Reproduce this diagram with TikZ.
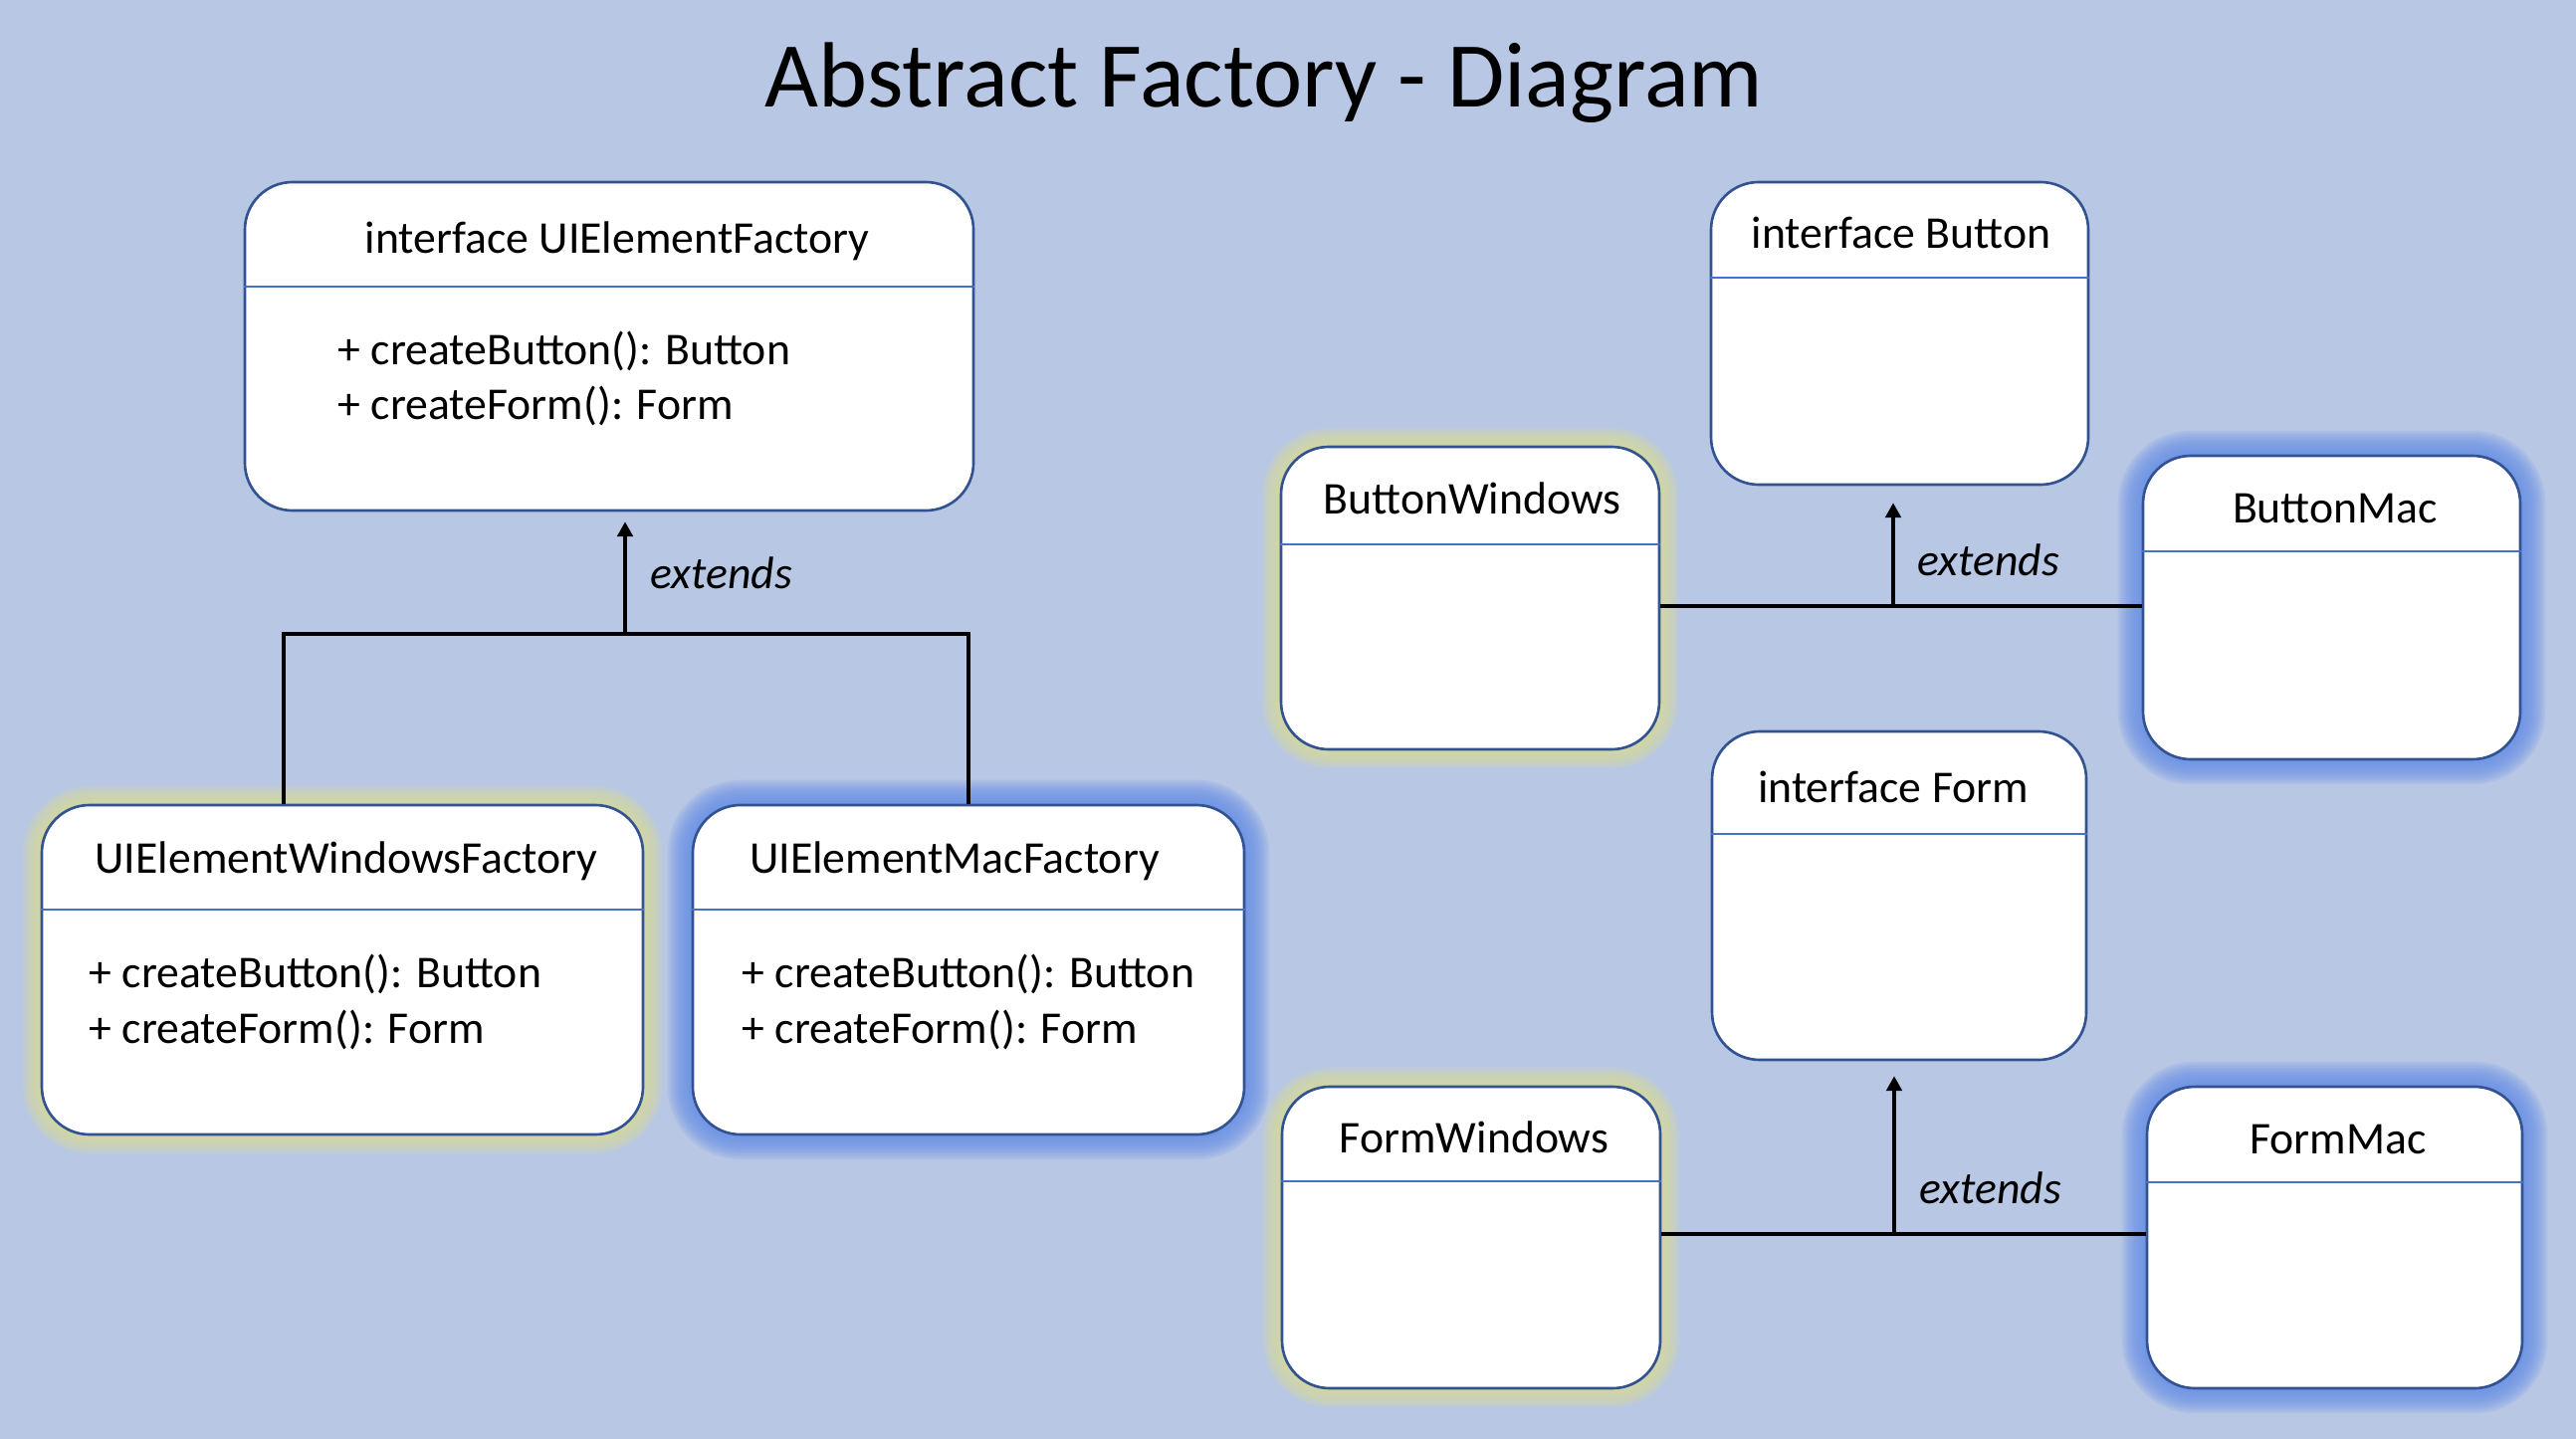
\documentclass[tikz,border=0pt]{standalone}
\usepackage{fontspec}
\setmainfont{Carlito}
\usetikzlibrary{arrows.meta,fit,calc}
\definecolor{bgblue}{RGB}{184,199,228}
\definecolor{boxborder}{RGB}{50,82,145}
\definecolor{sepblue}{RGB}{68,114,196}
\definecolor{glowyellow}{RGB}{214,218,160}
\definecolor{glowblue}{RGB}{105,145,230}
\newcommand\glowwin[1]{%
  \foreach \hw in {0.5,1,...,5.5}{%
    \draw[draw=glowyellow, draw opacity=0.17, line width=2*\hw pt, rounded corners=13.6pt] (#1-nw) rectangle (#1-se);}}
\newcommand\glowmac[1]{%
  \foreach \hw in {0.6,1.2,...,7.2}{%
    \draw[draw=glowblue, draw opacity=0.15, line width=2*\hw pt, rounded corners=13.6pt] (#1-nw) rectangle (#1-se);}}
\newcommand\noglow[1]{}
\newcommand\umlcls[7]{%
  \coordinate (#1-nw) at (#2,#3);
  \coordinate (#1-se) at (#4,#5);
  #7{#1}
  \node[umlbox, fit=(#1-nw)(#1-se)] (#1) {};
  \draw[sepline] (#1.west |- 0,#6) -- (#1.east |- 0,#6);
}
\begin{document}
\begin{tikzpicture}[x=0.01cm,y=-0.01cm,
  umlbox/.style={draw=boxborder, line width=0.75pt, fill=white, rounded corners=13.6pt, inner sep=0pt},
  sepline/.style={draw=sepblue, line width=0.35pt},
  conn/.style={draw=black, line width=0.95pt},
  arr/.style={conn, -{Triangle[width=4.4pt,length=4.2pt]}},
  txt/.style={inner sep=0pt, font=\fontsize{13}{15}\selectfont, anchor=base},
  txtl/.style={txt, anchor=base west},
  ext/.style={inner sep=0pt, anchor=base west, font=\fontsize{13}{15}\selectfont\itshape}]
\fill[bgblue] (0,0) rectangle (2588,1446);
\useasboundingbox (0,0) rectangle (2588,1446);

\node[inner sep=0pt, anchor=base, font=\fontsize{26.5}{30}\selectfont] (title) at (1270,108) {Abstract Factory - Diagram};

% left side
\umlcls{f}{246}{183}{978}{513}{288}{\noglow}
\umlcls{bw}{42}{809}{646}{1140}{914}{\glowwin}
\umlcls{bm}{696}{809}{1250}{1140}{914}{\glowmac}

\node[txt] (f-t) at (620,255) {interface UIElementFactory};
\node[txtl] (f-m1) at (339,367) {+ createButton(): Button};
\node[txtl] (f-m2) at (339,422) {+ createForm(): Form};

\node[txt] (bw-t) at (348,877) {UIElementWindowsFactory};
\node[txtl] (bw-m1) at (89,992) {+ createButton(): Button};
\node[txtl] (bw-m2) at (89,1048) {+ createForm(): Form};

\node[txt] (bm-t) at (959,877) {UIElementMacFactory};
\node[txtl] (bm-m1) at (745,992) {+ createButton(): Button};
\node[txtl] (bm-m2) at (745,1048) {+ createForm(): Form};

\coordinate (jl) at (285,637);
\coordinate (jr) at (973,637);
\coordinate (ja) at (628,637);
\draw[conn] (jl |- bw.north) -- (jl) -- (jr) -- (jr |- bm.north);
\draw[arr, shorten >=0.1cm] (ja) -- (ja |- f.south);
\node[ext] (ext1) at (653,591) {extends};

% right side: buttons
\umlcls{ib}{1719}{183}{2098}{487}{279}{\noglow}
\umlcls{bwin}{1287}{449}{1667}{753}{547}{\glowwin}
\umlcls{bmac}{2153}{458}{2532}{763}{554}{\glowmac}
\node[txt] (ib-t) at (1910,250) {interface Button};
\node[txt] (bwin-t) at (1479,517) {ButtonWindows};
\node[txt] (bmac-t) at (2346,525) {ButtonMac};

\coordinate (jb) at (1902,609);
\draw[conn] (jb -| bwin.east) -- (jb -| bmac.west);
\draw[arr, shorten >=0.17cm] (jb) -- (jb |- ib.south);
\node[ext] (ext2) at (1926,578) {extends};

% right side: forms
\umlcls{ifm}{1720}{735}{2096}{1065}{838}{\noglow}
\umlcls{fwin}{1288}{1092}{1668}{1395}{1187}{\glowwin}
\umlcls{fmac}{2157}{1092}{2534}{1395}{1188}{\glowmac}
\node[txt] (ifm-t) at (1902,806) {interface Form};
\node[txt] (fwin-t) at (1481,1158) {FormWindows};
\node[txt] (fmac-t) at (2349,1159) {FormMac};

\coordinate (jf) at (1903,1240);
\draw[conn] (jf -| fwin.east) -- (jf -| fmac.west);
\draw[arr, shorten >=0.15cm] (jf) -- (jf |- ifm.south);
\node[ext] (ext3) at (1928,1209) {extends};
\end{tikzpicture}
\end{document}
